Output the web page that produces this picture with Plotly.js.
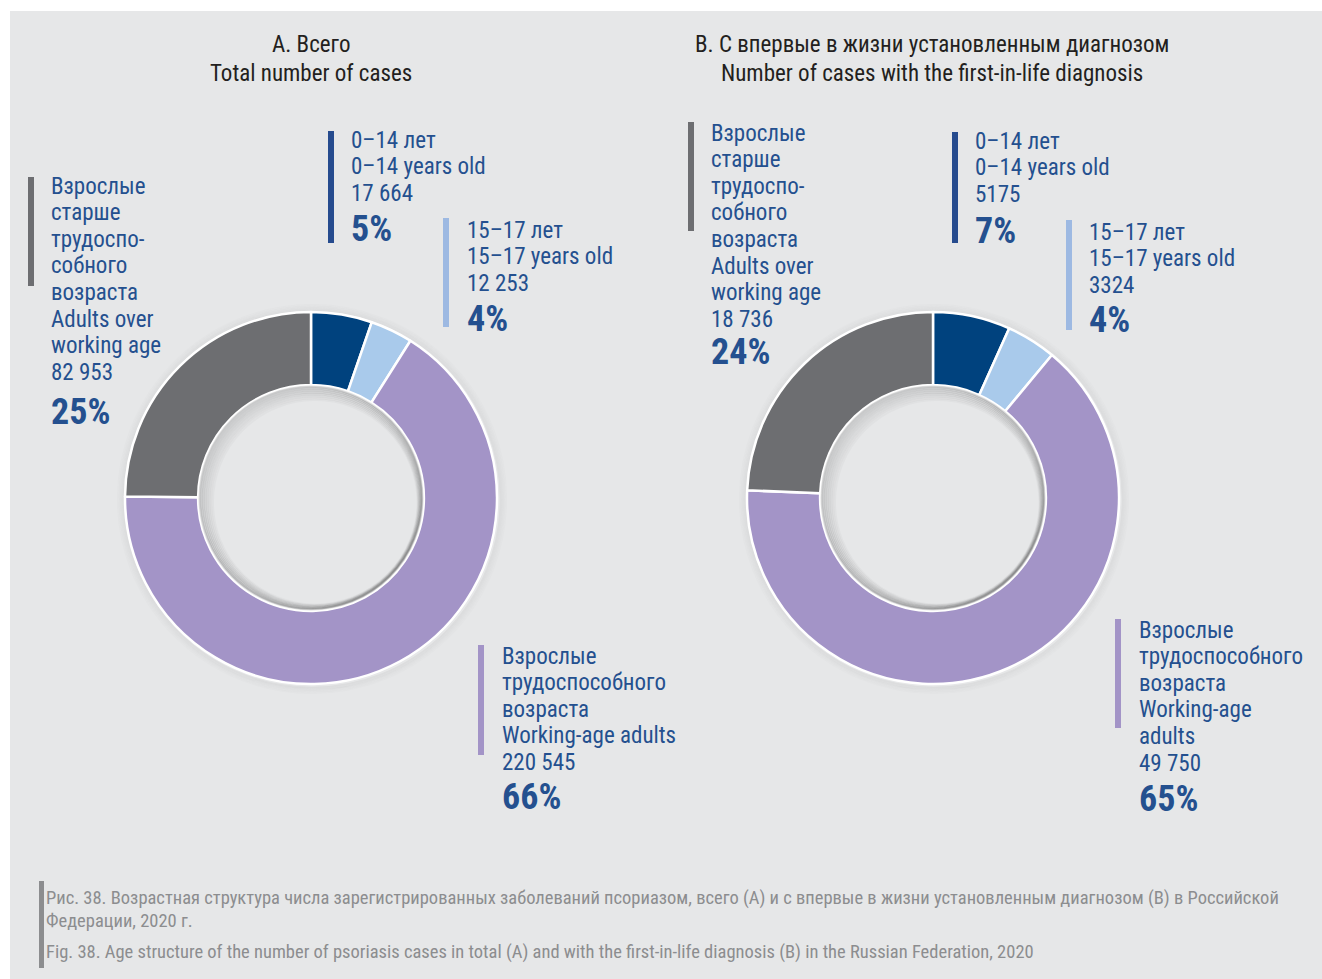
<!DOCTYPE html>
<html>
<head>
<meta charset="utf-8">
<script src="https://cdn.plot.ly/plotly-3.0.1.min.js"></script>
<style>
html,body{margin:0;padding:0;background:#fff;}
#chart{width:1322px;height:979px;}
</style>
</head>
<body>
<div id="chart"></div>
<script>
// ---------- DATA ----------
const categories = ['0–14 лет', '15–17 лет', 'Взрослые трудоспособного возраста', 'Взрослые старше трудоспособного возраста'];
const valuesA = [17664, 12253, 220545, 82953];
const valuesB = [5175, 3324, 49750, 18736];
const titleA = ['А. Всего', 'Total number of cases'];
const titleB = ['В. С впервые в жизни установленным диагнозом', 'Number of cases with the first-in-life diagnosis'];
const labelLinesA = [
  ['0–14 лет', '0–14 years old'],
  ['15–17 лет', '15–17 years old'],
  ['Взрослые', 'трудоспособного', 'возраста', 'Working-age adults'],
  ['Взрослые', 'старше', 'трудоспо-', 'собного', 'возраста', 'Adults over', 'working age']
];
const labelLinesB = [
  ['0–14 лет', '0–14 years old'],
  ['15–17 лет', '15–17 years old'],
  ['Взрослые', 'трудоспособного', 'возраста', 'Working-age', 'adults'],
  ['Взрослые', 'старше', 'трудоспо-', 'собного', 'возраста', 'Adults over', 'working age']
];
const captionLines = [
  'Рис. 38. Возрастная структура числа зарегистрированных заболеваний псориазом, всего (А) и с впервые в жизни установленным диагнозом (В) в Российской',
  'Федерации, 2020 г.',
  'Fig. 38. Age structure of the number of psoriasis cases in total (A) and with the first-in-life diagnosis (B) in the Russian Federation, 2020'
];

// ---------- STYLE / LAYOUT ----------
const W = 1322, H = 979;
const sliceColors = ['#00427e', '#a9caeb', '#a394c7', '#6d6e71'];
const barColors = ['#264b8e', '#9db9e2', '#a394c7', '#6d6e71'];
const textBlue = '#24508f';

const candidates = ['Liberation Sans Narrow', 'Roboto Condensed', 'Arial Narrow', 'DejaVu Sans Condensed', 'Roboto'];
const cnv = document.createElement('canvas').getContext('2d');
function measure(fam, txt, size, bold) {
  cnv.font = (bold ? 'bold ' : '') + size + 'px ' + fam;
  return cnv.measureText(txt).width;
}
function available(name) {
  const t = 'Взрослые 0–14 years old mmmWWiil';
  return measure('"' + name + '", monospace', t, 50) !== measure('monospace', t, 50) ||
         measure('"' + name + '", serif', t, 50) !== measure('serif', t, 50);
}
let chosen = 'DejaVu Sans Condensed';
for (const c of candidates) { if (available(c)) { chosen = c; break; } }
const FONT = "'" + chosen + "', sans-serif";
function fitSize(txt, targetW, bold) {
  return Math.round(100 * targetW / measure(FONT, txt, 100, bold) * 10) / 10;
}
const labelSize = Math.min(25, fitSize('0–14 years old', 135, false));
const titleSize = Math.min(25, fitSize('Total number of cases', 202, false));
const pctSize = Math.min(36, fitSize('25%', 61, true));
const capSize = Math.min(19, fitSize(captionLines[0], 1230, false));

const px = x => x / W;
const py = y => 1 - y / H;

// label block positions: [textLeft, firstLineCenterY, pctCenterY, barX0, barX1, barY0, barY1]
const posA = [
  [349, 140, 229, 328, 334, 131, 243],
  [465, 230, 319, 443, 449, 218, 327],
  [500, 656, 797, 478, 484, 645, 755],
  [49, 186, 412, 28, 34, 177, 286]
];
const posB = [
  [973, 141, 231, 952, 958, 132, 243],
  [1087, 232, 320, 1066, 1072, 220, 330],
  [1137, 630, 799, 1115, 1121, 619, 728],
  [709, 133, 352, 688, 694, 122, 231]
];
const pieA = {cx: 311, cy: 498, r: 186};
const pieB = {cx: 933, cy: 498, r: 186};
const HOLE = 0.607;
const LINE_PITCH = 26.6;

function fmt(v) {
  const s = String(v);
  return v >= 10000 ? s.slice(0, s.length - 3) + ' ' + s.slice(s.length - 3) : s;
}
function pcts(vals) {
  const t = vals.reduce((a, b) => a + b, 0);
  return vals.map(v => Math.round(v / t * 100) + '%');
}

const annotations = [];
const shapes = [];

shapes.push({type: 'rect', xref: 'paper', yref: 'paper', x0: px(10), x1: px(1322), y0: py(979), y1: py(11),
  fillcolor: '#e6e7e8', line: {width: 0}, layer: 'below'});

function addTitle(lines, cx) {
  lines.forEach((t, i) => annotations.push({
    xref: 'paper', yref: 'paper', x: px(cx), y: py(44 + i * 29), xanchor: 'center', yanchor: 'middle',
    text: t, showarrow: false, font: {family: FONT, size: titleSize, color: '#231f20'}
  }));
}
addTitle(titleA, 311);
addTitle(titleB, 932);

function addLabels(lineSets, vals, pos) {
  const pc = pcts(vals);
  lineSets.forEach((lines, k) => {
    const p = pos[k];
    const all = lines.concat([fmt(vals[k])]);
    all.forEach((t, i) => annotations.push({
      xref: 'paper', yref: 'paper', x: px(p[0]), y: py(p[1] + i * LINE_PITCH), xanchor: 'left', yanchor: 'middle',
      text: t, showarrow: false, font: {family: FONT, size: labelSize, color: textBlue}
    }));
    annotations.push({
      xref: 'paper', yref: 'paper', x: px(p[0]), y: py(p[2]), xanchor: 'left', yanchor: 'middle',
      text: '<b>' + pc[k] + '</b>', showarrow: false, font: {family: FONT, size: pctSize, color: textBlue}
    });
    shapes.push({type: 'rect', xref: 'paper', yref: 'paper', x0: px(p[3]), x1: px(p[4]), y0: py(p[6]), y1: py(p[5]),
      fillcolor: barColors[k], line: {width: 0}});
  });
}
addLabels(labelLinesA, valuesA, posA);
addLabels(labelLinesB, valuesB, posB);

shapes.push({type: 'rect', xref: 'paper', yref: 'paper', x0: px(39), x1: px(44), y0: py(968), y1: py(881),
  fillcolor: '#8c8d8f', line: {width: 0}});
[898, 921, 952].forEach((y, i) => annotations.push({
  xref: 'paper', yref: 'paper', x: px(44), y: py(y), xanchor: 'left', yanchor: 'middle',
  text: captionLines[i], showarrow: false, font: {family: FONT, size: capSize, color: '#8c8d8f'}
}));

// soft shadows (decoration)
function addShadows(p) {
  // faint halo outside the ring (strokes only, so the hole stays clear)
  for (let k = 1; k <= 5; k++) {
    const rr = p.r + 1 + k * 1.5;
    shapes.push({type: 'circle', xref: 'paper', yref: 'paper', xsizemode: 'pixel', ysizemode: 'pixel',
      xanchor: px(p.cx + 1), yanchor: py(p.cy + 1), x0: -rr, x1: rr, y0: -rr, y1: rr,
      fillcolor: 'rgba(0,0,0,0)', line: {width: 1.6, color: 'rgba(0,0,0,' + (0.05 - k * 0.008).toFixed(3) + ')'}, layer: 'below'});
  }
  // inner shadow in the hole: strokes hugging the hole edge, offset to the lower-right
  const hr = p.r * HOLE - 1.5;
  for (let k = 0; k < 8; k++) {
    const off = k * 1.1;
    const rr = hr - k * 1.3;
    shapes.push({type: 'circle', xref: 'paper', yref: 'paper', xsizemode: 'pixel', ysizemode: 'pixel',
      xanchor: px(p.cx + off * 0.55), yanchor: py(p.cy + off * 0.55), x0: -rr, x1: rr, y0: -rr, y1: rr,
      fillcolor: 'rgba(0,0,0,0)', line: {width: 2.2, color: 'rgba(0,0,0,' + (0.13 - k * 0.015).toFixed(3) + ')'}});
  }
}
addShadows(pieA);
addShadows(pieB);

function pieTrace(vals, p) {
  return {
    type: 'pie', values: vals, labels: categories, sort: false, direction: 'clockwise', rotation: 0,
    hole: HOLE, textinfo: 'none', hoverinfo: 'skip', showlegend: false,
    marker: {colors: sliceColors, line: {color: '#ffffff', width: 2.5}},
    domain: {x: [px(p.cx - p.r), px(p.cx + p.r)], y: [py(p.cy + p.r), py(p.cy - p.r)]}
  };
}

const data = [pieTrace(valuesA, pieA), pieTrace(valuesB, pieB)];
const layout = {
  width: W, height: H, margin: {l: 0, r: 0, t: 0, b: 0},
  paper_bgcolor: '#ffffff', plot_bgcolor: 'rgba(0,0,0,0)',
  showlegend: false, annotations: annotations, shapes: shapes,
  font: {family: FONT}
};
Plotly.newPlot('chart', data, layout, {displayModeBar: false, staticPlot: true});
</script>
</body>
</html>
